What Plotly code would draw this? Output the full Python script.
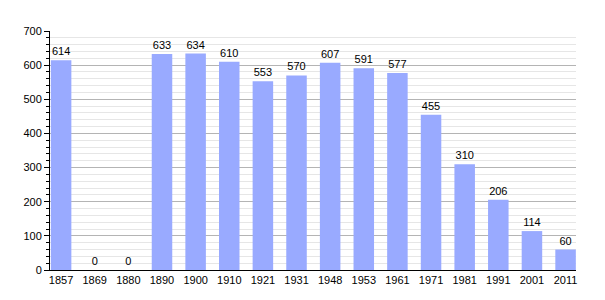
import plotly.graph_objects as go

years = ["1857", "1869", "1880", "1890", "1900", "1910", "1921", "1931", "1948",
         "1953", "1961", "1971", "1981", "1991", "2001", "2011"]
population = [614, 0, 0, 633, 634, 610, 553, 570, 607, 591, 577, 455, 310, 206, 114, 60]

fig = go.Figure(go.Bar(
    x=years, y=population,
    marker=dict(color="#99aaff", line=dict(width=0)),
    width=0.61,
    text=[str(v) for v in population],
    textposition="outside",
    textfont=dict(size=11, color="#000000", family="Liberation Sans, Arial, sans-serif"),
    cliponaxis=False,
))

fig.update_layout(
    width=605, height=300,
    margin=dict(l=50, r=29, t=31, b=30),
    paper_bgcolor="white", plot_bgcolor="white",
    font=dict(family="Liberation Sans, Arial, sans-serif", size=11, color="#000000"),
    showlegend=False,
)
fig.update_xaxes(
    type="category",
    range=[-0.33, len(years) - 1 + 0.31],
    showline=True, linecolor="#000000", linewidth=1,
    showgrid=False, ticks="", tickfont=dict(size=11),
)
fig.update_yaxes(
    range=[0, 700], dtick=100, tick0=0,
    showline=True, linecolor="#000000", linewidth=1,
    ticks="outside", ticklen=5, tickcolor="#000000",
    showgrid=True, gridcolor="#b4b4b4", gridwidth=1,
    zeroline=False,
    minor=dict(dtick=20, showgrid=True, gridcolor="#e6e6e6", ticks="outside",
               ticklen=3, tickcolor="#000000"),
    tickfont=dict(size=11),
)

fig.write_html("out.html")
